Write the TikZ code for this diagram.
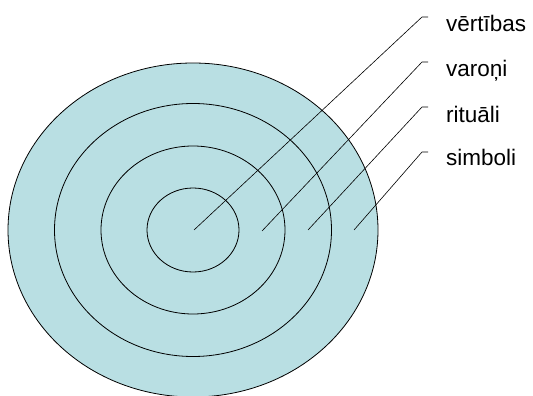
\documentclass[tikz,border=0pt]{standalone}
\usepackage{fontspec}
\setmainfont{Liberation Sans}
\definecolor{ringfill}{RGB}{185,223,227}
\begin{document}
\begin{tikzpicture}[x=1pt,y=-1pt,
  ring/.style={draw=black,line width=0.8pt},
  leader/.style={draw=black,line width=0.6pt},
  lbl/.style={anchor=base west,inner sep=0pt,font=\fontsize{22.5}{26}\selectfont}]
\useasboundingbox (0,0) rectangle (533,396);
\coordinate (c) at (193,230);
\fill[ringfill] (c) ellipse [x radius=185, y radius=167];
\draw[ring] (c) ellipse [x radius=185, y radius=167];
\draw[ring] (c) ellipse [x radius=138.5, y radius=126.5];
\draw[ring] (c) ellipse [x radius=92, y radius=84];
\draw[ring] (c) ellipse [x radius=46, y radius=42];
\coordinate (p1) at (194,230);
\coordinate (p2) at (262,231);
\coordinate (p3) at (308,230);
\coordinate (p4) at (354,230);
\coordinate (k1) at (422,17);
\coordinate (k2) at (422,62);
\coordinate (k3) at (422,107);
\coordinate (k4) at (422,152);
\coordinate (e1) at (428,17);
\coordinate (e2) at (428,62);
\coordinate (e3) at (428,107);
\coordinate (e4) at (428,152);
\node[lbl] (t1) at (446,32) {vērtības};
\node[lbl] (t2) at (446,77) {varoņi};
\node[lbl] (t3) at (446,122) {rituāli};
\node[lbl] (t4) at (446,165) {simboli};
\draw[leader] (p1) -- (k1) -- (e1);
\draw[leader] (p2) -- (k2) -- (e2);
\draw[leader] (p3) -- (k3) -- (e3);
\draw[leader] (p4) -- (k4) -- (e4);
\end{tikzpicture}
\end{document}
